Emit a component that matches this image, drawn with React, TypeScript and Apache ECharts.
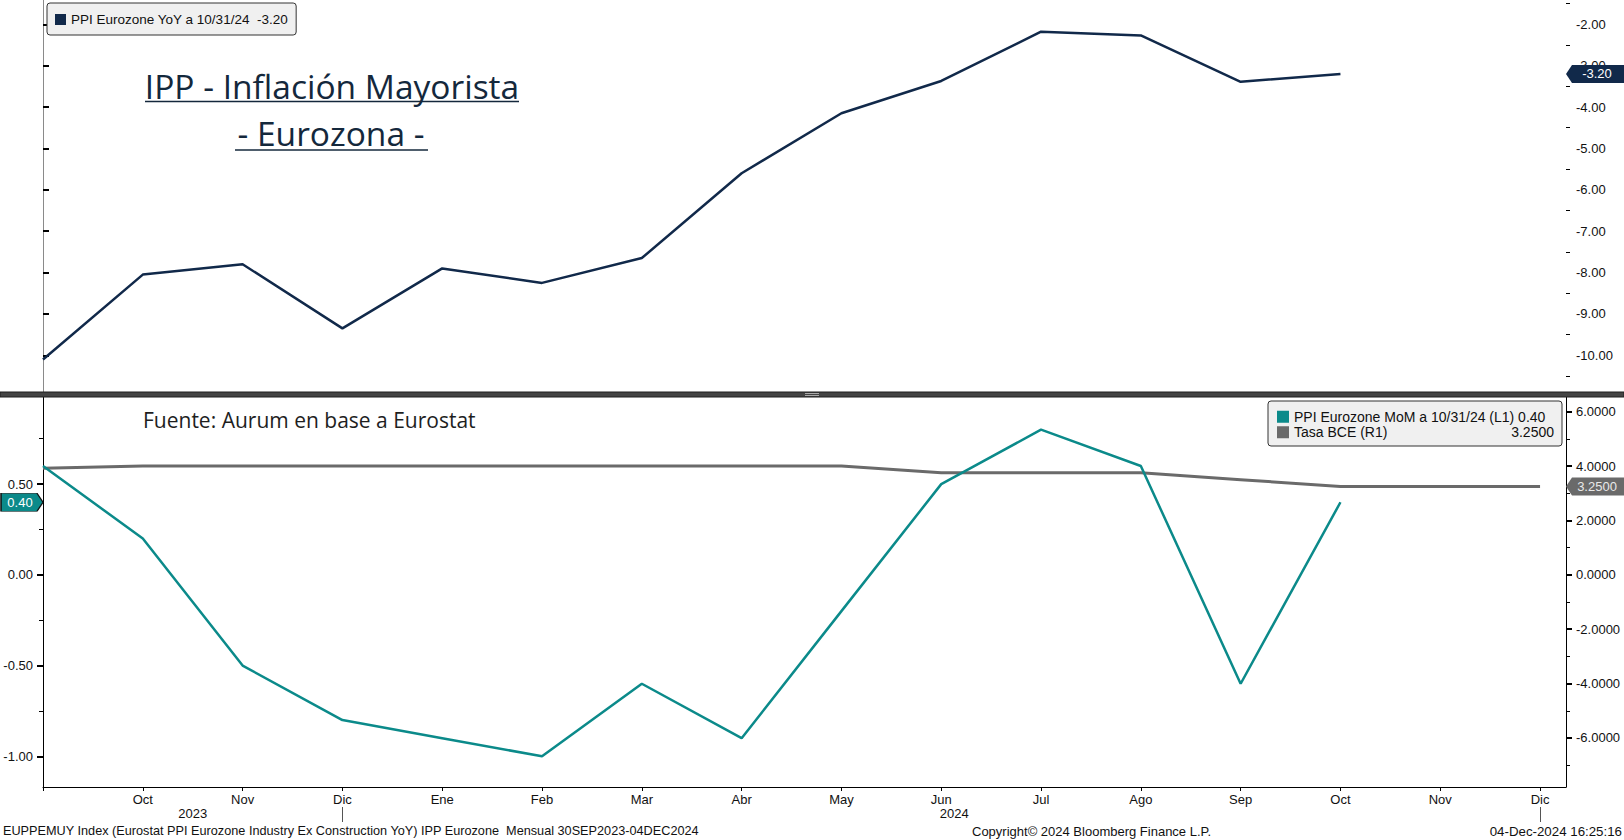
import React, { useEffect, useRef } from 'react';
import * as echarts from 'echarts';

// ---- data ----
const MONTHS = ['Sep', 'Oct', 'Nov', 'Dic', 'Ene', 'Feb', 'Mar', 'Abr', 'May', 'Jun', 'Jul', 'Ago', 'Sep', 'Oct', 'Nov', 'Dic'];
const YEAR_LABELS = ['2023', '2024'];
const YEAR_LABEL_POS = [1.5, 9.13];
const YEAR_BREAKS = [3, 15];
const PPI_YOY = [-10.1, -8.05, -7.8, -9.35, -7.9, -8.25, -7.65, -5.6, -4.15, -3.37, -2.18, -2.27, -3.39, -3.2];
const PPI_MOM = [0.6, 0.2, -0.5, -0.8, -0.9, -1.0, -0.6, -0.9, -0.2, 0.5, 0.8, 0.6, -0.6, 0.4];
const TASA_BCE = [3.92, 4.0, 4.0, 4.0, 4.0, 4.0, 4.0, 4.0, 4.0, 3.75, 3.75, 3.75, 3.5, 3.25, 3.25, 3.25];
const YOY_TICKS = [-10, -9, -8, -7, -6, -5, -4, -3, -2];
const YOY_MINOR = [-10.5, -9.5, -8.5, -7.5, -6.5, -5.5, -4.5, -3.5, -2.5, -1.5];
const MOM_TICKS = [-1, -0.5, 0, 0.5];
const MOM_MINOR = [-0.75, -0.25, 0.25, 0.75];
const BCE_TICKS = [-6, -4, -2, 0, 2, 4, 6];
const BCE_MINOR = [-7, -5, -3, -1, 1, 3, 5];
const LAST_DATE = '10/31/24';

const SERIES_YOY = 'PPI Eurozone YoY';
const SERIES_MOM = 'PPI Eurozone MoM';
const SERIES_BCE = 'Tasa BCE';

// ---- axis extents ----
const X_MAX = 15.26;
const YOY_MIN = -10.887, YOY_MAX = -1.413;
const MOM_MIN = -1.169, MOM_MAX = 0.98;
const BCE_MIN = -7.803, BCE_MAX = 6.54;

// ---- styles ----
const NAVY = '#11294a';
const TEAL = '#0b8a8a';
const GRAY = '#6a6a6a';
const FONT = "'Liberation Sans', Arial, sans-serif";
const TITLE_FONT = "'Open Sans', 'Noto Sans', sans-serif";

const range = (n: number) => Array.from({ length: n }, (_, i) => i);

function yMajor(gridIndex: number, position: string, min: number, max: number, ticks: number[], decimals: number) {
  return {
    type: 'value', gridIndex, position, min, max,
    axisLine: { show: true, lineStyle: { color: '#000', width: 1 } },
    axisTick: { show: true, customValues: ticks, length: 6, inside: false, lineStyle: { color: '#000', width: 2 } },
    axisLabel: {
      show: true, customValues: ticks, margin: 10, color: '#111', fontSize: 13, fontFamily: FONT,
      formatter: (v: number) => v.toFixed(decimals),
    },
    splitLine: { show: false },
  };
}
function yMinor(gridIndex: number, position: string, min: number, max: number, ticks: number[]) {
  return {
    type: 'value', gridIndex, position, min, max,
    axisLine: { show: false },
    axisTick: { show: true, customValues: ticks, length: 4, lineStyle: { color: '#000', width: 1 } },
    axisLabel: { show: false, customValues: ticks },
    splitLine: { show: false },
  };
}

const badge = (dir: 'left' | 'right') =>
  dir === 'left'
    ? 'path://M0,9 L6,0 L58,0 L58,18 L6,18 Z'
    : 'path://M0,0 L36,0 L42,9 L36,18 L0,18 Z';

export default function App() {
  const ref = useRef<HTMLDivElement>(null);
  useEffect(() => {
    if (!ref.current) return;
    const chart = echarts.init(ref.current, null, { renderer: 'svg' });
    const lastYoy = PPI_YOY[PPI_YOY.length - 1];
    const lastMom = PPI_MOM[PPI_MOM.length - 1];
    const lastBce = TASA_BCE[TASA_BCE.length - 1];

    const option: any = {
      animation: false,
      backgroundColor: '#fff',
      grid: [
        { left: 43, right: 58, top: 0, height: 392 },
        { left: 43, right: 58, top: 397, bottom: 53 },
      ],
      xAxis: [
        { type: 'value', gridIndex: 0, min: 0, max: X_MAX, show: false, splitLine: { show: false } },
        {
          type: 'value', gridIndex: 1, min: 0, max: X_MAX, position: 'bottom',
          axisLine: { show: true, onZero: false, lineStyle: { color: '#000', width: 1 } },
          axisTick: { show: true, customValues: range(MONTHS.length), length: 4, lineStyle: { color: '#000' } },
          axisLabel: {
            customValues: range(MONTHS.length).slice(1), margin: 6, color: '#111', fontSize: 13, fontFamily: FONT,
            formatter: (v: number) => MONTHS[Math.round(v)] ?? '',
          },
          splitLine: { show: false },
        },
        {
          type: 'value', gridIndex: 1, min: 0, max: X_MAX, position: 'bottom', offset: 20,
          axisLine: { show: false, onZero: false },
          axisTick: { show: true, customValues: YEAR_BREAKS, length: 15, lineStyle: { color: '#555' } },
          axisLabel: {
            customValues: YEAR_LABEL_POS, margin: 0, color: '#111', fontSize: 13, fontFamily: FONT,
            formatter: (v: number) => (v < YEAR_BREAKS[0] ? YEAR_LABELS[0] : YEAR_LABELS[1]),
          },
          splitLine: { show: false },
        },
      ],
      yAxis: [
        yMajor(0, 'right', YOY_MIN, YOY_MAX, YOY_TICKS, 2),
        yMinor(0, 'right', YOY_MIN, YOY_MAX, YOY_MINOR),
        {
          type: 'value', gridIndex: 0, position: 'left', min: YOY_MIN, max: YOY_MAX,
          axisLine: { show: true, lineStyle: { color: '#8a8a8a' } },
          axisTick: { show: false }, axisLabel: { show: false }, splitLine: { show: false },
        },
        yMajor(1, 'left', MOM_MIN, MOM_MAX, MOM_TICKS, 2),
        yMinor(1, 'left', MOM_MIN, MOM_MAX, MOM_MINOR),
        yMajor(1, 'right', BCE_MIN, BCE_MAX, BCE_TICKS, 4),
        yMinor(1, 'right', BCE_MIN, BCE_MAX, BCE_MINOR),
      ],
      legend: [
        {
          data: [SERIES_YOY], left: 47, top: 3, selectedMode: false,
          backgroundColor: '#f0f0f0', borderColor: '#333', borderWidth: 1, borderRadius: 3,
          padding: [9, 8, 8, 8], itemWidth: 11, itemHeight: 11, icon: 'rect', itemGap: 0,
          textStyle: { color: '#111', fontSize: 13.5, fontFamily: FONT, lineHeight: 15 },
          formatter: (name: string) => `${name} a ${LAST_DATE}  ${lastYoy.toFixed(2)}`,
        },
        {
          data: [SERIES_MOM, SERIES_BCE], left: 1268, top: 401, orient: 'vertical', selectedMode: false,
          backgroundColor: '#f0f0f0', borderColor: '#333', borderWidth: 1, borderRadius: 3,
          padding: [8, 8, 6, 9], itemWidth: 12, itemHeight: 12, icon: 'rect', itemGap: 0,
          textStyle: {
            color: '#111', fontSize: 14, fontFamily: FONT, lineHeight: 15.5,
            rich: {
              m: { fontSize: 14, fontFamily: FONT, width: 260, lineHeight: 15.5 },
              n: { fontSize: 14, fontFamily: FONT, width: 200, lineHeight: 15.5 },
              v: { fontSize: 14, fontFamily: FONT, width: 60, align: 'right', lineHeight: 15.5 },
            },
          },
          formatter: (name: string) =>
            name === SERIES_MOM
              ? `{m|${name} a ${LAST_DATE} (L1) ${lastMom.toFixed(2)}}`
              : `{n|${name} (R1)}{v|${lastBce.toFixed(4)}}`,
        },
      ],
      series: [
        {
          name: SERIES_YOY, type: 'line', xAxisIndex: 0, yAxisIndex: 0, symbol: 'none', z: 3,
          data: PPI_YOY.map((v, i) => [i, v]),
          lineStyle: { color: NAVY, width: 2.5 }, itemStyle: { color: NAVY },
          markPoint: {
            silent: true, symbol: badge('left'), symbolSize: [58, 18], symbolOffset: [29, 0],
            itemStyle: { color: NAVY },
            label: { show: true, color: '#fff', fontSize: 13, fontFamily: FONT, offset: [2, 0], formatter: lastYoy.toFixed(2) },
            data: [{ coord: [X_MAX, lastYoy] }],
          },
        },
        {
          name: SERIES_BCE, type: 'line', xAxisIndex: 1, yAxisIndex: 5, symbol: 'none', z: 2,
          data: TASA_BCE.map((v, i) => [i, v]),
          lineStyle: { color: GRAY, width: 3 }, itemStyle: { color: GRAY },
          markPoint: {
            silent: true, symbol: badge('left'), symbolSize: [58, 18], symbolOffset: [29, 0],
            itemStyle: { color: GRAY },
            label: { show: true, color: '#e8e8e8', fontSize: 13, fontFamily: FONT, offset: [2, 0], formatter: lastBce.toFixed(4) },
            data: [{ coord: [X_MAX, lastBce] }],
          },
        },
        {
          name: SERIES_MOM, type: 'line', xAxisIndex: 1, yAxisIndex: 3, symbol: 'none', z: 4,
          data: PPI_MOM.map((v, i) => [i, v]),
          lineStyle: { color: TEAL, width: 2.5 }, itemStyle: { color: TEAL },
          markPoint: {
            silent: true, symbol: badge('right'), symbolSize: [42, 18], symbolOffset: [-21, 0],
            itemStyle: { color: TEAL, borderColor: '#111', borderWidth: 1 },
            label: { show: true, color: '#fff', fontSize: 13, fontFamily: FONT, offset: [-2, 0], formatter: lastMom.toFixed(2) },
            data: [{ coord: [0, lastMom] }],
          },
        },
      ],
      graphic: [
        { type: 'rect', z: 100, shape: { x: 0, y: 392, width: 1624, height: 5 }, style: { fill: '#444', stroke: '#1e1e1e', lineWidth: 1 } },
        { type: 'line', z: 101, shape: { x1: 805, y1: 393.5, x2: 819, y2: 393.5 }, style: { stroke: '#aaa', lineWidth: 1 } },
        { type: 'line', z: 101, shape: { x1: 805, y1: 395.5, x2: 819, y2: 395.5 }, style: { stroke: '#aaa', lineWidth: 1 } },
        {
          type: 'text', z: 50, x: 332, y: 86,
          style: { text: 'IPP - Inflación Mayorista', font: `33.5px ${TITLE_FONT}`, fill: '#14283c', align: 'center', verticalAlign: 'middle', textAlign: 'center', textVerticalAlign: 'middle' },
        },
        { type: 'line', z: 50, shape: { x1: 145, y1: 101.5, x2: 519, y2: 101.5 }, style: { stroke: '#14283c', lineWidth: 1.5 } },
        {
          type: 'text', z: 50, x: 331, y: 133,
          style: { text: '- Eurozona -', font: `33.5px ${TITLE_FONT}`, fill: '#14283c', align: 'center', verticalAlign: 'middle', textAlign: 'center', textVerticalAlign: 'middle' },
        },
        { type: 'line', z: 50, shape: { x1: 235, y1: 150, x2: 428, y2: 150 }, style: { stroke: '#14283c', lineWidth: 1.5 } },
        {
          type: 'text', z: 50, x: 143, y: 420,
          style: { text: 'Fuente: Aurum en base a Eurostat', font: `21px ${TITLE_FONT}`, fill: '#1e1e1e', align: 'left', verticalAlign: 'middle', textAlign: 'left', textVerticalAlign: 'middle' },
        },
        {
          type: 'text', z: 50, x: 3, y: 831,
          style: { text: 'EUPPEMUY Index (Eurostat PPI Eurozone Industry Ex Construction YoY) IPP Eurozone  Mensual 30SEP2023-04DEC2024', font: `12.7px ${FONT}`, fill: '#111', align: 'left', verticalAlign: 'middle', textAlign: 'left', textVerticalAlign: 'middle' },
        },
        {
          type: 'text', z: 50, x: 972, y: 831,
          style: { text: 'Copyright© 2024 Bloomberg Finance L.P.', font: `13px ${FONT}`, fill: '#111', align: 'left', verticalAlign: 'middle', textAlign: 'left', textVerticalAlign: 'middle' },
        },
        {
          type: 'text', z: 50, x: 1622, y: 831,
          style: { text: '04-Dec-2024 16:25:16', font: `13.3px ${FONT}`, fill: '#111', align: 'right', verticalAlign: 'middle', textAlign: 'right', textVerticalAlign: 'middle' },
        },
      ],
    };
    chart.setOption(option);
    return () => chart.dispose();
  }, []);
  return <div ref={ref} style={{ position: 'absolute', left: 0, top: 0, width: 1624, height: 840, background: '#fff' }} />;
}
